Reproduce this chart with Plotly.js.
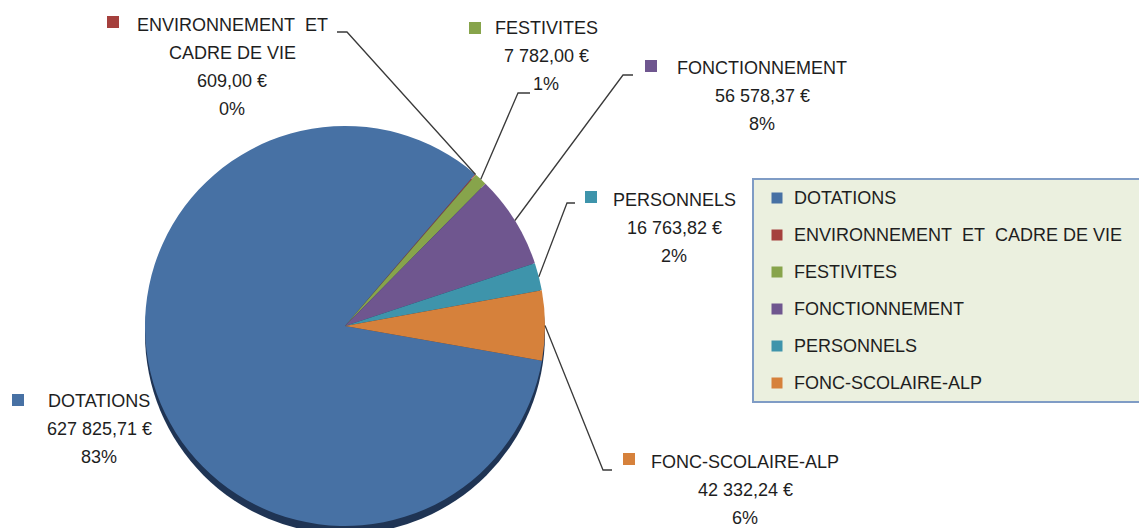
<!DOCTYPE html>
<html><head><meta charset="utf-8">
<script src="https://cdn.plot.ly/plotly-3.0.1.min.js"></script>
<style>html,body{margin:0;padding:0;background:#fff}#chart{width:1139px;height:528px}</style>
</head><body><div id="chart"></div>
<script>
// ---- data ----
const categories = ['DOTATIONS', 'ENVIRONNEMENT\u00A0 ET\u00A0 CADRE DE VIE', 'FESTIVITES', 'FONCTIONNEMENT', 'PERSONNELS', 'FONC-SCOLAIRE-ALP'];
const amounts = [627825.71, 609.00, 7782.00, 56578.37, 16763.82, 42332.24];
const labelNameLines = [['DOTATIONS'], ['ENVIRONNEMENT\u00A0 ET', 'CADRE DE VIE'], ['FESTIVITES'], ['FONCTIONNEMENT'], ['PERSONNELS'], ['FONC-SCOLAIRE-ALP']];

// ---- styles / layout constants ----
const sliceColors = ['#4771a4', '#a5403d', '#87a44b', '#6f568f', '#3e94ab', '#d6813b'];
const W = 1139, H = 528;
const PIE = {cx: 345, cy: 326, r: 200, rotation: 100, shadowDy: 8};
const FONT = {family: 'Liberation Sans, Arial, sans-serif', size: 18, color: '#1e1e1e'};
const LINE_GAP = 28;
// label block placement (pixels): square centre, text centre x, first line y, leader path
const labelPlace = [
  {sq: [18, 400], cx: 99, y0: 401, lead: null},
  {sq: [113, 22], cx: 232, y0: 25, lead: [[337, 32], [347, 32]]},
  {sq: [475, 28], cx: 546, y0: 28, lead: [[530, 93], [518, 93]]},
  {sq: [651, 66], cx: 762, y0: 68, lead: [[633, 75], [623, 75]]},
  {sq: [591, 197], cx: 674, y0: 200, lead: [[575, 203], [567, 203]]},
  {sq: [629, 459], cx: 745, y0: 462, lead: [[612, 470], [603, 470]]}
];
const LEG = {x0: 753, y0: 179, x1: 1150, y1: 402, sqX: 777, textX: 792, itemY0: 198, gap: 37, sq: 11};

// ---- helpers ----
const px = x => x / W;
const py = y => 1 - y / H;
function fmtEuro(v) {
  const parts = v.toFixed(2).split('.');
  const intPart = parts[0].replace(/\B(?=(\d{3})+(?!\d))/g, '\u00A0');
  return intPart + ',' + parts[1] + '\u00A0€';
}
const total = amounts.reduce((a, b) => a + b, 0);

const shapes = [];
const annotations = [];

// 3D-like shadow under the pie
shapes.push({type: 'circle', xref: 'paper', yref: 'paper', layer: 'below',
  x0: px(PIE.cx - PIE.r), x1: px(PIE.cx + PIE.r),
  y0: py(PIE.cy + PIE.shadowDy + PIE.r), y1: py(PIE.cy + PIE.shadowDy - PIE.r),
  fillcolor: '#1f3454', line: {width: 0}});

// labels + leaders
let cum = 0;
amounts.forEach((v, i) => {
  const mid = (PIE.rotation + (cum + v / 2) / total * 360) * Math.PI / 180;
  cum += v;
  const ex = PIE.cx + PIE.r * Math.sin(mid);
  const ey = PIE.cy - PIE.r * Math.cos(mid);
  const p = labelPlace[i];
  const lines = labelNameLines[i].concat([fmtEuro(v), Math.round(v / total * 100) + '%']);
  lines.forEach((t, k) => {
    annotations.push({xref: 'paper', yref: 'paper', x: px(p.cx), y: py(p.y0 + k * LINE_GAP),
      xanchor: 'center', yanchor: 'middle', showarrow: false, text: t, font: FONT});
  });
  const s = 6;
  shapes.push({type: 'rect', xref: 'paper', yref: 'paper',
    x0: px(p.sq[0] - s), x1: px(p.sq[0] + s), y0: py(p.sq[1] + s), y1: py(p.sq[1] - s),
    fillcolor: sliceColors[i], line: {width: 0}});
  if (p.lead) {
    const pts = [p.lead[0], p.lead[1], [ex, ey]];
    const path = 'M' + pts.map(q => px(q[0]) + ',' + py(q[1])).join(' L');
    shapes.push({type: 'path', xref: 'paper', yref: 'paper', path: path,
      line: {color: '#3a3a3a', width: 1.3}});
  }
});

// legend box
shapes.push({type: 'rect', xref: 'paper', yref: 'paper',
  x0: px(LEG.x0), x1: px(LEG.x1), y0: py(LEG.y1), y1: py(LEG.y0),
  fillcolor: '#ebf0df', line: {color: '#7f9cc5', width: 2}});
categories.forEach((c, i) => {
  const y = LEG.itemY0 + i * LEG.gap;
  shapes.push({type: 'rect', xref: 'paper', yref: 'paper',
    x0: px(LEG.sqX - LEG.sq / 2), x1: px(LEG.sqX + LEG.sq / 2),
    y0: py(y + LEG.sq / 2), y1: py(y - LEG.sq / 2),
    fillcolor: sliceColors[i], line: {width: 0}});
  annotations.push({xref: 'paper', yref: 'paper', x: px(LEG.textX), y: py(y),
    xanchor: 'left', yanchor: 'middle', showarrow: false, text: c, font: FONT});
});

const trace = {
  type: 'pie', labels: categories, values: amounts, sort: false,
  direction: 'clockwise', rotation: PIE.rotation,
  marker: {colors: sliceColors, line: {width: 0}},
  textinfo: 'none', hoverinfo: 'label+value+percent', showlegend: false,
  domain: {x: [px(PIE.cx - PIE.r), px(PIE.cx + PIE.r)], y: [py(PIE.cy + PIE.r), py(PIE.cy - PIE.r)]}
};

const layout = {
  width: W, height: H, margin: {l: 0, r: 0, t: 0, b: 0},
  paper_bgcolor: '#ffffff', showlegend: false,
  shapes: shapes, annotations: annotations
};
Plotly.newPlot('chart', [trace], layout, {displayModeBar: false, staticPlot: true});
</script>
</body></html>
